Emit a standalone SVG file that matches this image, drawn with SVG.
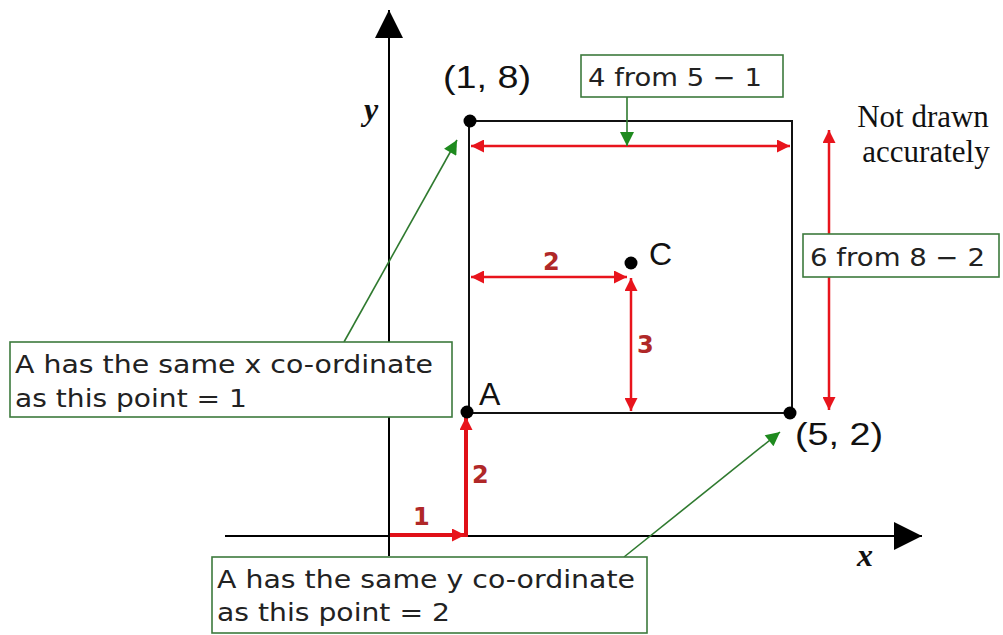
<svg xmlns="http://www.w3.org/2000/svg" width="1003" height="635" viewBox="0 0 1003 635">
<style>
.axis{stroke:#000;stroke-width:2;fill:none}
.rect{stroke:#111;stroke-width:2;fill:none}
.red{stroke:#e8141c;stroke-width:2.5;fill:none}
.redthick{stroke:#e01018;stroke-width:4;fill:none}
.grn{stroke:#2f7a2f;stroke-width:1.6;fill:none}
.box{fill:#fff;stroke:#3d7a3d;stroke-width:1.6}
.boxt{font-family:"DejaVu Sans",Verdana,sans-serif;font-size:25px;fill:#222}
.lab{font-family:"Liberation Sans",Arial,sans-serif;font-size:32px;fill:#111}
.rl{font-family:"DejaVu Sans",Verdana,sans-serif;font-size:24px;fill:#b02828;font-weight:bold}
.ax{font-family:"Liberation Serif","Times New Roman",serif;font-style:italic;font-weight:bold;font-size:32px;fill:#111}
.note{font-family:"Liberation Serif","Times New Roman",serif;font-size:31px;fill:#111}
.dot{fill:#000}
</style>
<defs>
<marker id="ra" viewBox="0 0 12 12" refX="12" refY="6" markerWidth="15" markerHeight="13" markerUnits="userSpaceOnUse" orient="auto-start-reverse"><path d="M0,0 L12,6 L0,12 Z" fill="#e8141c"/></marker>
<marker id="ga" viewBox="0 0 12 12" refX="12" refY="6" markerWidth="16" markerHeight="14" markerUnits="userSpaceOnUse" orient="auto-start-reverse"><path d="M0,0 L12,6 L0,12 Z" fill="#1e8a1e"/></marker>
<marker id="ka" viewBox="0 0 12 12" refX="12" refY="6" markerWidth="29" markerHeight="28" markerUnits="userSpaceOnUse" orient="auto-start-reverse"><path d="M0,0 L12,6 L0,12 Z" fill="#000"/></marker>
</defs>

<g id="axes">
<line class="axis" x1="389" y1="556" x2="389" y2="10" marker-end="url(#ka)"/>
<line class="axis" x1="225" y1="536" x2="922" y2="536" marker-end="url(#ka)"/>
<text class="ax" x="364" y="120">y</text>
<text class="ax" x="857" y="566">x</text>
</g>

<g id="rectangle">
<rect class="rect" x="469" y="121" width="323" height="292"/>
</g>

<g id="connectors">
<line class="red" x1="471" y1="146" x2="790" y2="146" marker-start="url(#ra)" marker-end="url(#ra)"/>
<line class="red" x1="829" y1="130" x2="829" y2="410" marker-start="url(#ra)" marker-end="url(#ra)"/>
<line class="red" x1="471" y1="277" x2="627" y2="277" marker-start="url(#ra)" marker-end="url(#ra)"/>
<line class="red" x1="631" y1="278" x2="631" y2="411" marker-start="url(#ra)" marker-end="url(#ra)"/>
<line class="redthick" x1="390" y1="535" x2="465" y2="535" marker-end="url(#ra)"/>
<line class="redthick" x1="466" y1="537" x2="466" y2="417" marker-end="url(#ra)"/>
<line class="grn" x1="627" y1="97" x2="627" y2="146" marker-end="url(#ga)"/>
<line class="grn" x1="344" y1="342" x2="457" y2="140" marker-end="url(#ga)"/>
<line class="grn" x1="624" y1="557" x2="780" y2="432" marker-end="url(#ga)"/>
</g>

<g id="dimension-labels">
<text class="rl" x="543" y="270">2</text>
<text class="rl" x="637" y="353">3</text>
<text class="rl" x="413" y="525">1</text>
<text class="rl" x="472" y="483">2</text>
</g>

<g id="point-18">
<circle class="dot" cx="470" cy="121" r="6.5"/>
<text class="lab" x="443" y="88" textLength="88" lengthAdjust="spacingAndGlyphs">(1, 8)</text>
</g>
<g id="point-A">
<circle class="dot" cx="467" cy="412" r="6.5"/>
<text class="lab" x="479" y="405">A</text>
</g>
<g id="point-52">
<circle class="dot" cx="790" cy="413" r="6.5"/>
<text class="lab" x="795" y="445" textLength="88" lengthAdjust="spacingAndGlyphs">(5, 2)</text>
</g>
<g id="point-C">
<circle class="dot" cx="631" cy="263" r="6.5"/>
<text class="lab" x="649" y="265" font-size="30">C</text>
</g>

<g id="box-4from">
<rect class="box" x="581" y="55" width="202" height="42"/>
<text class="boxt" x="588" y="86" textLength="174" lengthAdjust="spacingAndGlyphs">4 from 5 − 1</text>
</g>
<g id="box-6from">
<rect class="box" x="803" y="234" width="196" height="43"/>
<text class="boxt" x="810" y="266" textLength="175" lengthAdjust="spacingAndGlyphs">6 from 8 − 2</text>
</g>
<g id="box-x">
<rect class="box" x="10" y="342" width="442" height="75"/>
<text class="boxt" x="15" y="373" textLength="418" lengthAdjust="spacingAndGlyphs">A has the same x co-ordinate</text>
<text class="boxt" x="15" y="407" textLength="232" lengthAdjust="spacingAndGlyphs">as this point = 1</text>
</g>
<g id="box-y">
<rect class="box" x="212" y="557" width="435" height="76"/>
<text class="boxt" x="217" y="588" textLength="418" lengthAdjust="spacingAndGlyphs">A has the same y co-ordinate</text>
<text class="boxt" x="217" y="621" textLength="233" lengthAdjust="spacingAndGlyphs">as this point = 2</text>
</g>

<g id="note">
<text class="note" x="923" y="127" text-anchor="middle">Not drawn</text>
<text class="note" x="926" y="162" text-anchor="middle">accurately</text>
</g>
</svg>
